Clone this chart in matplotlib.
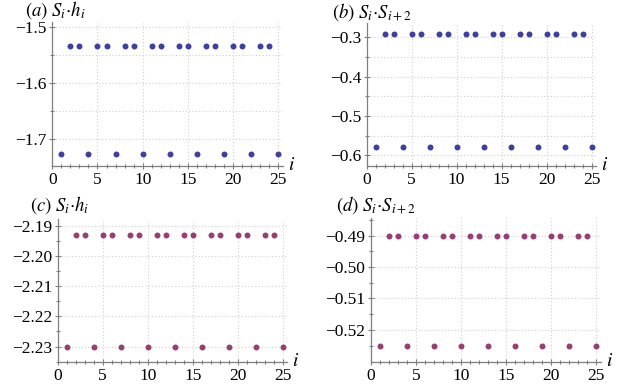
import matplotlib
matplotlib.use("Agg")
import matplotlib.pyplot as plt
from matplotlib.ticker import MultipleLocator, FixedLocator

# site index
i_vals = list(range(1, 26))

# correlators (low value every third site)
sh_blue = [-1.726, -1.534, -1.534, -1.726, -1.534, -1.534, -1.726, -1.534, -1.534,
           -1.726, -1.534, -1.534, -1.726, -1.534, -1.534, -1.726, -1.534, -1.534,
           -1.726, -1.534, -1.534, -1.726, -1.534, -1.534, -1.726]
ss_blue = [-0.578, -0.291, -0.291, -0.578, -0.291, -0.291, -0.578, -0.291, -0.291,
           -0.578, -0.291, -0.291, -0.578, -0.291, -0.291, -0.578, -0.291, -0.291,
           -0.578, -0.291, -0.291, -0.578, -0.291, -0.291, -0.578]
sh_purple = [-2.2300, -2.1932, -2.1932, -2.2300, -2.1932, -2.1932, -2.2300, -2.1932, -2.1932,
             -2.2300, -2.1932, -2.1932, -2.2300, -2.1932, -2.1932, -2.2300, -2.1932, -2.1932,
             -2.2300, -2.1932, -2.1932, -2.2300, -2.1932, -2.1932, -2.2300]
ss_purple = [-0.5251, -0.4900, -0.4900, -0.5251, -0.4900, -0.4900, -0.5251, -0.4900, -0.4900,
             -0.5251, -0.4900, -0.4900, -0.5251, -0.4900, -0.4900, -0.5251, -0.4900, -0.4900,
             -0.5251, -0.4900, -0.4900, -0.5251, -0.4900, -0.4900, -0.5251]

titles = [r"$(a)\ S_i{\cdot}h_i$", r"$(b)\ S_i{\cdot}S_{i+2}$",
          r"$(c)\ S_i{\cdot}h_i$", r"$(d)\ S_i{\cdot}S_{i+2}$"]
y_major = [[-1.5, -1.6, -1.7], [-0.3, -0.4, -0.5, -0.6],
           [-2.19, -2.20, -2.21, -2.22, -2.23], [-0.49, -0.50, -0.51, -0.52]]
y_minor = [[-1.55, -1.65], [-0.35, -0.45, -0.55],
           [-2.185, -2.195, -2.205, -2.215, -2.225, -2.235],
           [-0.485, -0.495, -0.505, -0.515, -0.525]]
y_fmt = ["{:.1f}", "{:.1f}", "{:.2f}", "{:.2f}"]

BLUE = "#3f3f9f"
PURPLE = "#9a3e72"
AXIS_GRAY = "#7f7f7f"
GRID_GRAY = "#cfcfcf"

plt.rcParams["font.family"] = ["Liberation Serif", "DejaVu Serif"]
plt.rcParams["mathtext.fontset"] = "stix"

fig = plt.figure(figsize=(6.23, 3.87), dpi=100)
W, H = 623.0, 387.0

# (left, right, top, bottom) in pixels
boxes = [(52.3, 282.7, 21.7, 166.0), (366.7, 596.0, 22.7, 166.0),
         (57.7, 287.3, 219.3, 362.3), (371.0, 600.7, 218.3, 362.3)]
ylims = [(-1.748, -1.491), (-0.627, -0.263), (-2.2352, -2.1879), (-0.5303, -0.4845)]
series = [sh_blue, ss_blue, sh_purple, ss_purple]
colors = [BLUE, BLUE, PURPLE, PURPLE]
minor_grid = [True, True, False, False]
title_pos = [(25, 10), (332, 12), (30, 205), (336, 205)]

for k in range(4):
    l, r, t, b = boxes[k]
    ax = fig.add_axes([l / W, 1 - b / H, (r - l) / W, (b - t) / H])
    ax.set_xlim(0, 25.5)
    ax.set_ylim(*ylims[k])
    for side in ("top", "right"):
        ax.spines[side].set_visible(False)
    for side in ("left", "bottom"):
        ax.spines[side].set_color(AXIS_GRAY)
        ax.spines[side].set_linewidth(0.9)

    ax.xaxis.set_major_locator(MultipleLocator(5))
    ax.xaxis.set_minor_locator(MultipleLocator(1))
    ax.yaxis.set_major_locator(FixedLocator(y_major[k]))
    ax.yaxis.set_minor_locator(FixedLocator(y_minor[k]))
    ax.set_yticklabels([y_fmt[k].format(v).replace("-", "\u2212") for v in y_major[k]])
    ax.tick_params(which="both", colors=AXIS_GRAY, labelcolor="black",
                   labelsize=12.5, direction="inout", pad=1.5, width=0.8)
    ax.tick_params(which="major", length=5)
    ax.tick_params(which="minor", length=3)

    grid_kw = dict(color=GRID_GRAY, linewidth=0.8, linestyle=(0, (1, 2)), zorder=0)
    for xv in [5, 10, 15, 20, 25]:
        ax.axvline(xv, **grid_kw)
    for yv in y_major[k] + (y_minor[k] if minor_grid[k] else []):
        ax.axhline(yv, **grid_kw)

    ax.plot(i_vals, series[k], "o", color=colors[k], markersize=4.3,
            markeredgewidth=0, zorder=3, clip_on=False)

    fig.text((r + 5) / W, 1 - (b - 1) / H, "$i$", fontsize=14,
             ha="left", va="center")
    tx, ty = title_pos[k]
    fig.text(tx / W, 1 - ty / H, titles[k], fontsize=13.5, ha="left", va="center")

fig.savefig("out.png", dpi=100)
